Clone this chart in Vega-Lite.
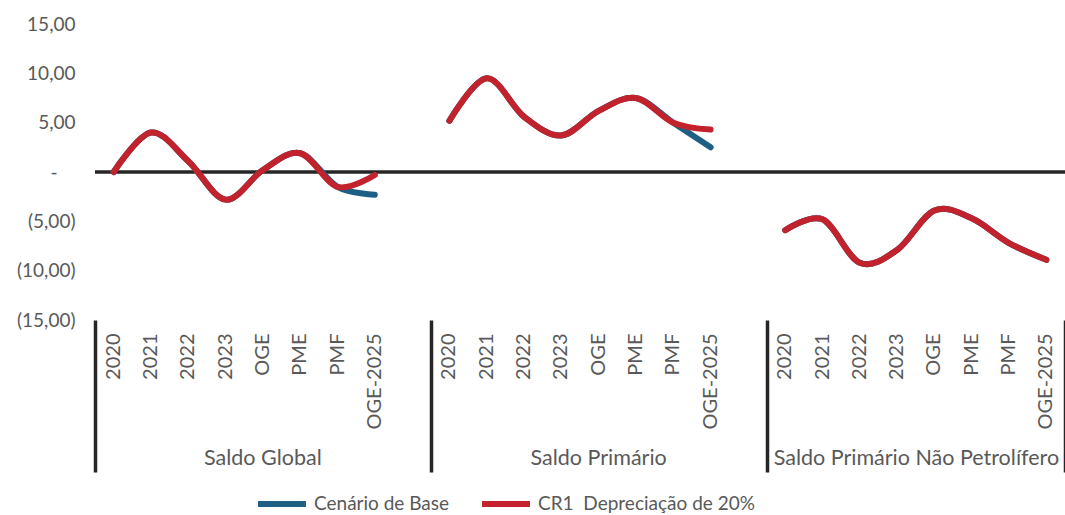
{
  "$schema": "https://vega.github.io/schema/vega-lite/v6.json",
  "width": 970,
  "height": 296,
  "autosize": "none",
  "padding": {"left": 95, "top": 24, "right": 0, "bottom": 195},
  "background": "white",
  "config": {"view": {"stroke": null}, "font": "Lato"},
  "data": {
    "values": [
      {"grupo": "Saldo Global", "categoria": "Saldo Global|2020", "serie": "Cenário de Base", "valor": 0.0},
      {"grupo": "Saldo Global", "categoria": "Saldo Global|2021", "serie": "Cenário de Base", "valor": 4.0},
      {"grupo": "Saldo Global", "categoria": "Saldo Global|2022", "serie": "Cenário de Base", "valor": 1.1},
      {"grupo": "Saldo Global", "categoria": "Saldo Global|2023", "serie": "Cenário de Base", "valor": -2.8},
      {"grupo": "Saldo Global", "categoria": "Saldo Global|OGE", "serie": "Cenário de Base", "valor": 0.2},
      {"grupo": "Saldo Global", "categoria": "Saldo Global|PME", "serie": "Cenário de Base", "valor": 1.9},
      {"grupo": "Saldo Global", "categoria": "Saldo Global|PMF", "serie": "Cenário de Base", "valor": -1.5},
      {"grupo": "Saldo Global", "categoria": "Saldo Global|OGE-2025", "serie": "Cenário de Base", "valor": -2.3},
      {"grupo": "Saldo Primário", "categoria": "Saldo Primário|2020", "serie": "Cenário de Base", "valor": 5.2},
      {"grupo": "Saldo Primário", "categoria": "Saldo Primário|2021", "serie": "Cenário de Base", "valor": 9.5},
      {"grupo": "Saldo Primário", "categoria": "Saldo Primário|2022", "serie": "Cenário de Base", "valor": 5.6},
      {"grupo": "Saldo Primário", "categoria": "Saldo Primário|2023", "serie": "Cenário de Base", "valor": 3.7},
      {"grupo": "Saldo Primário", "categoria": "Saldo Primário|OGE", "serie": "Cenário de Base", "valor": 6.2},
      {"grupo": "Saldo Primário", "categoria": "Saldo Primário|PME", "serie": "Cenário de Base", "valor": 7.5},
      {"grupo": "Saldo Primário", "categoria": "Saldo Primário|PMF", "serie": "Cenário de Base", "valor": 5.0},
      {"grupo": "Saldo Primário", "categoria": "Saldo Primário|OGE-2025", "serie": "Cenário de Base", "valor": 2.5},
      {"grupo": "Saldo Primário Não Petrolífero", "categoria": "Saldo Primário Não Petrolífero|2020", "serie": "Cenário de Base", "valor": -5.9},
      {"grupo": "Saldo Primário Não Petrolífero", "categoria": "Saldo Primário Não Petrolífero|2021", "serie": "Cenário de Base", "valor": -4.8},
      {"grupo": "Saldo Primário Não Petrolífero", "categoria": "Saldo Primário Não Petrolífero|2022", "serie": "Cenário de Base", "valor": -9.2},
      {"grupo": "Saldo Primário Não Petrolífero", "categoria": "Saldo Primário Não Petrolífero|2023", "serie": "Cenário de Base", "valor": -7.9},
      {"grupo": "Saldo Primário Não Petrolífero", "categoria": "Saldo Primário Não Petrolífero|OGE", "serie": "Cenário de Base", "valor": -3.9},
      {"grupo": "Saldo Primário Não Petrolífero", "categoria": "Saldo Primário Não Petrolífero|PME", "serie": "Cenário de Base", "valor": -4.7},
      {"grupo": "Saldo Primário Não Petrolífero", "categoria": "Saldo Primário Não Petrolífero|PMF", "serie": "Cenário de Base", "valor": -7.2},
      {"grupo": "Saldo Primário Não Petrolífero", "categoria": "Saldo Primário Não Petrolífero|OGE-2025", "serie": "Cenário de Base", "valor": -8.9},
      {"grupo": "Saldo Global", "categoria": "Saldo Global|2020", "serie": "CR1\u00a0 Depreciação de 20%", "valor": 0.0},
      {"grupo": "Saldo Global", "categoria": "Saldo Global|2021", "serie": "CR1\u00a0 Depreciação de 20%", "valor": 4.0},
      {"grupo": "Saldo Global", "categoria": "Saldo Global|2022", "serie": "CR1\u00a0 Depreciação de 20%", "valor": 1.1},
      {"grupo": "Saldo Global", "categoria": "Saldo Global|2023", "serie": "CR1\u00a0 Depreciação de 20%", "valor": -2.8},
      {"grupo": "Saldo Global", "categoria": "Saldo Global|OGE", "serie": "CR1\u00a0 Depreciação de 20%", "valor": 0.2},
      {"grupo": "Saldo Global", "categoria": "Saldo Global|PME", "serie": "CR1\u00a0 Depreciação de 20%", "valor": 1.9},
      {"grupo": "Saldo Global", "categoria": "Saldo Global|PMF", "serie": "CR1\u00a0 Depreciação de 20%", "valor": -1.5},
      {"grupo": "Saldo Global", "categoria": "Saldo Global|OGE-2025", "serie": "CR1\u00a0 Depreciação de 20%", "valor": -0.3},
      {"grupo": "Saldo Primário", "categoria": "Saldo Primário|2020", "serie": "CR1\u00a0 Depreciação de 20%", "valor": 5.2},
      {"grupo": "Saldo Primário", "categoria": "Saldo Primário|2021", "serie": "CR1\u00a0 Depreciação de 20%", "valor": 9.5},
      {"grupo": "Saldo Primário", "categoria": "Saldo Primário|2022", "serie": "CR1\u00a0 Depreciação de 20%", "valor": 5.6},
      {"grupo": "Saldo Primário", "categoria": "Saldo Primário|2023", "serie": "CR1\u00a0 Depreciação de 20%", "valor": 3.7},
      {"grupo": "Saldo Primário", "categoria": "Saldo Primário|OGE", "serie": "CR1\u00a0 Depreciação de 20%", "valor": 6.2},
      {"grupo": "Saldo Primário", "categoria": "Saldo Primário|PME", "serie": "CR1\u00a0 Depreciação de 20%", "valor": 7.5},
      {"grupo": "Saldo Primário", "categoria": "Saldo Primário|PMF", "serie": "CR1\u00a0 Depreciação de 20%", "valor": 5.0},
      {"grupo": "Saldo Primário", "categoria": "Saldo Primário|OGE-2025", "serie": "CR1\u00a0 Depreciação de 20%", "valor": 4.3},
      {"grupo": "Saldo Primário Não Petrolífero", "categoria": "Saldo Primário Não Petrolífero|2020", "serie": "CR1\u00a0 Depreciação de 20%", "valor": -5.9},
      {"grupo": "Saldo Primário Não Petrolífero", "categoria": "Saldo Primário Não Petrolífero|2021", "serie": "CR1\u00a0 Depreciação de 20%", "valor": -4.8},
      {"grupo": "Saldo Primário Não Petrolífero", "categoria": "Saldo Primário Não Petrolífero|2022", "serie": "CR1\u00a0 Depreciação de 20%", "valor": -9.2},
      {"grupo": "Saldo Primário Não Petrolífero", "categoria": "Saldo Primário Não Petrolífero|2023", "serie": "CR1\u00a0 Depreciação de 20%", "valor": -7.9},
      {"grupo": "Saldo Primário Não Petrolífero", "categoria": "Saldo Primário Não Petrolífero|OGE", "serie": "CR1\u00a0 Depreciação de 20%", "valor": -3.9},
      {"grupo": "Saldo Primário Não Petrolífero", "categoria": "Saldo Primário Não Petrolífero|PME", "serie": "CR1\u00a0 Depreciação de 20%", "valor": -4.7},
      {"grupo": "Saldo Primário Não Petrolífero", "categoria": "Saldo Primário Não Petrolífero|PMF", "serie": "CR1\u00a0 Depreciação de 20%", "valor": -7.2},
      {"grupo": "Saldo Primário Não Petrolífero", "categoria": "Saldo Primário Não Petrolífero|OGE-2025", "serie": "CR1\u00a0 Depreciação de 20%", "valor": -8.9}
    ]
  },
  "layer": [
    {
      "data": {"values": [{"valor": 0}]},
      "mark": {"type": "rule", "strokeWidth": 3.5, "color": "#262626"},
      "encoding": {
        "y": {
          "field": "valor", "type": "quantitative",
          "scale": {"domain": [-15, 15], "nice": false, "zero": false},
          "axis": {
            "orient": "left", "title": null, "domain": false, "ticks": false, "grid": false,
            "values": [-15, -10, -5, 0, 5, 10, 15],
            "labelFontSize": 19, "labelColor": "#595959", "labelFont": "Lato",
            "labelPadding": {"condition": {"test": "datum.value == 0", "value": 38}, "value": 20},
            "labelExpr": "datum.value == 0 ? '-' : (datum.value < 0 ? '(' + replace(format(-datum.value, '.2f'), '.', ',') + ')' : replace(format(datum.value, '.2f'), '.', ',') + '\u00a0')"
          }
        }
      }
    },
    {
      "transform": [{"filter": "datum.serie == 'Cenário de Base'"}],
      "mark": {"type": "line", "interpolate": "cardinal", "strokeWidth": 6, "strokeCap": "round"},
      "encoding": {
        "x": {
          "field": "categoria", "type": "nominal", "bandPosition": 0.5, "sort": null,
          "scale": {
            "type": "band", "paddingInner": 0, "paddingOuter": 0,
            "domain": [
              "Saldo Global|2020", "Saldo Global|2021", "Saldo Global|2022", "Saldo Global|2023", "Saldo Global|OGE", "Saldo Global|PME", "Saldo Global|PMF", "Saldo Global|OGE-2025", "Saldo Global|",
              "Saldo Primário|2020", "Saldo Primário|2021", "Saldo Primário|2022", "Saldo Primário|2023", "Saldo Primário|OGE", "Saldo Primário|PME", "Saldo Primário|PMF", "Saldo Primário|OGE-2025", "Saldo Primário|",
              "Saldo Primário Não Petrolífero|2020", "Saldo Primário Não Petrolífero|2021", "Saldo Primário Não Petrolífero|2022", "Saldo Primário Não Petrolífero|2023", "Saldo Primário Não Petrolífero|OGE", "Saldo Primário Não Petrolífero|PME", "Saldo Primário Não Petrolífero|PMF", "Saldo Primário Não Petrolífero|OGE-2025"
            ]
          },
          "axis": {
            "orient": "bottom", "title": null, "domain": false, "ticks": false, "tickSize": 0, "grid": false,
            "labelAngle": -90, "labelPadding": 13, "labelFontSize": 20, "labelColor": "#595959", "labelFont": "Lato",
            "labelExpr": "split(datum.value, '|')[1]"
          }
        },
        "y": {"field": "valor", "type": "quantitative"},
        "detail": {"field": "grupo"},
        "color": {
          "field": "serie", "type": "nominal",
          "scale": {"domain": ["Cenário de Base", "CR1\u00a0 Depreciação de 20%"], "range": ["#1D5F85", "#C1222B"]},
          "legend": {
            "orient": "none", "legendX": 160, "legendY": 453, "direction": "horizontal", "title": null,
            "symbolType": "stroke", "symbolSize": 2300, "symbolStrokeWidth": 6,
            "labelFontSize": 19, "labelColor": "#595959", "labelFont": "Lato", "labelLimit": 400,
            "labelOffset": 5, "columnPadding": 20
          }
        }
      }
    },
    {
      "transform": [{"filter": "datum.serie != 'Cenário de Base'"}],
      "mark": {"type": "line", "interpolate": "cardinal", "strokeWidth": 6, "strokeCap": "round"},
      "encoding": {
        "x": {
          "field": "categoria", "type": "nominal", "bandPosition": 0.5, "sort": null,
          "axis": {
            "orient": "bottom", "title": null, "domain": false, "ticks": false, "tickSize": 0, "grid": false,
            "values": ["Saldo Global|OGE", "Saldo Primário|OGE", "Saldo Primário Não Petrolífero|OGE"],
            "labelAngle": 0, "labelPadding": 127, "labelFontSize": 21.5, "labelColor": "#595959", "labelFont": "Lato", "labelLimit": 400,
            "labelOffset": {"condition": {"test": "indexof(datum.value, 'Não') >= 0", "value": -18}, "value": 0},
            "labelExpr": "split(datum.value, '|')[0]"
          }
        },
        "y": {"field": "valor", "type": "quantitative"},
        "detail": {"field": "grupo"},
        "color": {"field": "serie", "type": "nominal"}
      }
    },
    {
      "transform": [{"filter": "datum.serie != 'Cenário de Base'"}],
      "mark": {"type": "point", "opacity": 0, "size": 1},
      "encoding": {
        "x": {
          "field": "categoria", "type": "nominal", "sort": null,
          "axis": {
            "orient": "bottom", "title": null, "domain": false, "labels": false, "grid": false,
            "ticks": true, "tickBand": "extent", "tickSize": 152, "tickWidth": 3.5, "tickColor": "#262626",
            "values": ["Saldo Global|2020", "Saldo Global|", "Saldo Primário|", "Saldo Primário Não Petrolífero|OGE-2025"],
            "tickOpacity": {"condition": {"test": "datum.value === 'Saldo Global|2020'", "value": 0}, "value": 1}
          }
        },
        "y": {"field": "valor", "type": "quantitative"}
      }
    }
  ],
  "resolve": {"axis": {"x": "independent"}}
}
